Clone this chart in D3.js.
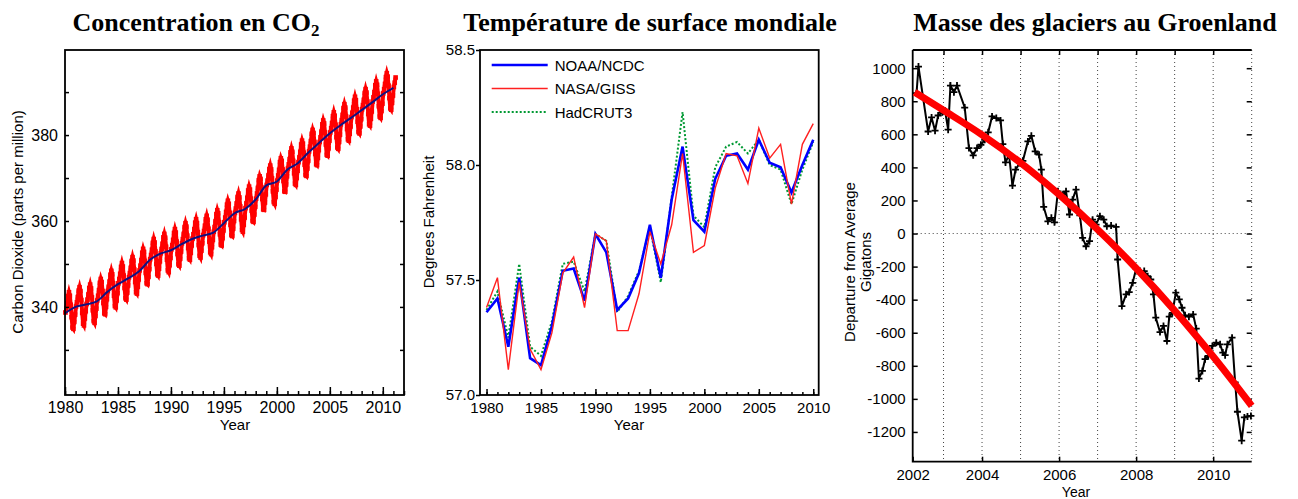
<!DOCTYPE html>
<html>
<head>
<meta charset="utf-8">
<script src="https://cdn.jsdelivr.net/npm/d3@7"></script>
<style>
body { margin: 0; background: #fff; }
svg { display: block; font-family: "Liberation Sans", Arial, sans-serif; }
.title { font-family: "Liberation Serif", "Times New Roman", serif; font-weight: bold; font-size: 26px; }
</style>
</head>
<body>
<svg id="chart" width="1298" height="499"></svg>
<script>
// ---- CO2 (Mauna Loa style monthly record), one row per year from 1980
const co2FirstYear = 1980;
const co2Monthly = [
  [338.7, 339.7, 340.9, 342.5, 343.4, 342.6, 340.5, 337.6, 335.2, 334.9, 336.5, 338.2],
  [340.1, 341.1, 342.3, 343.8, 344.6, 343.7, 341.6, 338.6, 336.1, 335.7, 337.3, 339.0],
  [340.7, 341.7, 342.9, 344.4, 345.2, 344.3, 342.2, 339.2, 336.7, 336.3, 337.9, 339.6],
  [341.5, 342.6, 343.9, 345.6, 346.5, 345.8, 343.7, 340.9, 338.5, 338.3, 340.0, 341.8],
  [343.7, 344.7, 345.9, 347.5, 348.4, 347.6, 345.5, 342.6, 340.2, 339.9, 341.5, 343.2],
  [345.5, 346.5, 347.7, 349.3, 350.2, 349.4, 347.3, 344.4, 342.0, 341.7, 343.3, 345.0],
  [346.9, 347.9, 349.1, 350.7, 351.6, 350.8, 348.7, 345.8, 343.4, 343.1, 344.7, 346.4],
  [348.5, 349.6, 350.9, 352.6, 353.5, 352.8, 350.7, 347.9, 345.5, 345.3, 347.0, 348.8],
  [351.1, 352.1, 353.3, 354.9, 355.8, 355.0, 352.9, 350.0, 347.6, 347.3, 348.9, 350.6],
  [352.5, 353.5, 354.7, 356.2, 357.0, 356.1, 354.0, 351.0, 348.5, 348.1, 349.7, 351.4],
  [353.4, 354.4, 355.6, 357.2, 358.1, 357.3, 355.2, 352.3, 349.9, 349.6, 351.2, 352.9],
  [354.8, 355.8, 357.0, 358.6, 359.5, 358.7, 356.6, 353.7, 351.3, 351.0, 352.6, 354.3],
  [355.9, 356.9, 358.1, 359.6, 360.4, 359.5, 357.4, 354.4, 351.9, 351.5, 353.1, 354.8],
  [356.7, 357.7, 358.9, 360.4, 361.2, 360.3, 358.2, 355.2, 352.7, 352.3, 353.9, 355.6],
  [357.5, 358.6, 359.9, 361.6, 362.5, 361.8, 359.7, 356.9, 354.5, 354.3, 356.0, 357.8],
  [359.7, 360.8, 362.1, 363.8, 364.7, 364.0, 361.9, 359.1, 356.7, 356.5, 358.2, 360.0],
  [361.9, 362.9, 364.1, 365.6, 366.4, 365.5, 363.4, 360.4, 357.9, 357.5, 359.1, 360.8],
  [363.0, 364.1, 365.4, 367.1, 368.0, 367.3, 365.2, 362.4, 360.0, 359.8, 361.5, 363.3],
  [365.2, 366.4, 367.7, 369.5, 370.4, 369.8, 367.8, 365.1, 362.7, 362.6, 364.3, 366.2],
  [368.4, 369.4, 370.6, 372.1, 372.9, 372.0, 369.9, 366.9, 364.4, 364.0, 365.6, 367.3],
  [369.4, 370.6, 371.9, 373.7, 374.6, 374.0, 372.0, 369.3, 366.9, 366.8, 368.5, 370.4],
  [372.2, 373.2, 374.4, 376.0, 376.9, 376.1, 374.0, 371.1, 368.7, 368.4, 370.0, 371.7],
  [373.7, 374.8, 376.1, 377.8, 378.7, 378.0, 375.9, 373.1, 370.7, 370.5, 372.2, 374.0],
  [376.2, 377.3, 378.6, 380.3, 381.2, 380.5, 378.4, 375.6, 373.2, 373.0, 374.7, 376.5],
  [378.4, 379.5, 380.8, 382.5, 383.4, 382.7, 380.6, 377.8, 375.4, 375.2, 376.9, 378.7],
  [380.6, 381.6, 382.8, 384.4, 385.3, 384.5, 382.4, 379.5, 377.1, 376.8, 378.4, 380.1],
  [382.5, 383.5, 384.7, 386.3, 387.2, 386.4, 384.3, 381.4, 379.0, 378.7, 380.3, 382.0],
  [384.2, 385.2, 386.4, 388.0, 388.9, 388.1, 386.0, 383.1, 380.7, 380.4, 382.0, 383.7],
  [386.0, 387.0, 388.2, 389.8, 390.7, 389.9, 387.8, 384.9, 382.5, 382.2, 383.8, 385.5],
  [387.8, 388.8, 390.0, 391.6, 392.5, 391.7, 389.6, 386.7, 384.3, 384.0, 385.6, 387.3],
  [389.7, 390.7, 391.9, 393.5, 394.4, 393.6, 391.5, 388.6, 386.2, 385.9, 387.5, 389.2],
  [391.2, 392.2, 393.4]
];
// smoothed trend (blue), value at start of each year
const co2TrendYears = [1980, 1981, 1982, 1983, 1984, 1985, 1986, 1987, 1988, 1989, 1990,
  1991, 1992, 1993, 1994, 1995, 1996, 1997, 1998, 1999, 2000,
  2001, 2002, 2003, 2004, 2005, 2006, 2007, 2008, 2009, 2010, 2011];
const co2Trend = [338.5, 340.0, 340.6, 341.3, 343.5, 345.3, 346.7, 348.3, 350.9, 352.4, 353.2,
  354.6, 355.8, 356.6, 357.3, 359.5, 361.8, 362.8, 365.0, 368.3, 369.2,
  372.0, 373.5, 376.0, 378.2, 380.4, 382.3, 384.0, 385.8, 387.6, 389.5, 391.0];

// ---- global surface temperature (deg F)
const tempYears = [1980, 1981, 1982, 1983, 1984, 1985, 1986, 1987, 1988, 1989, 1990,
  1991, 1992, 1993, 1994, 1995, 1996, 1997, 1998, 1999, 2000,
  2001, 2002, 2003, 2004, 2005, 2006, 2007, 2008, 2009, 2010];
const noaa = [57.36, 57.42, 57.21, 57.51, 57.16, 57.13, 57.30, 57.54, 57.55, 57.41, 57.70,
  57.62, 57.37, 57.42, 57.53, 57.74, 57.51, 57.85, 58.08, 57.76, 57.71,
  57.94, 58.04, 58.05, 57.98, 58.11, 58.01, 57.99, 57.88, 58.00, 58.11];
const nasa = [57.38, 57.51, 57.11, 57.49, 57.20, 57.11, 57.27, 57.53, 57.60, 57.38, 57.70,
  57.67, 57.28, 57.28, 57.44, 57.71, 57.57, 57.74, 58.05, 57.62, 57.65,
  57.90, 58.05, 58.04, 57.92, 58.16, 58.03, 58.09, 57.83, 58.09, 58.18];
const hadcrut = [57.37, 57.45, 57.25, 57.57, 57.21, 57.17, 57.32, 57.57, 57.58, 57.45, 57.70,
  57.67, 57.36, 57.43, 57.54, 57.73, 57.49, 57.86, 58.23, 57.78, 57.73,
  57.99, 58.08, 58.10, 58.05, 58.11, 58.00, 57.98, 57.83, 57.98, 58.10];
const tempSeries = ["HadCRUT3", "NOAA/NCDC", "NASA/GISS"];
const legendNames = ["NOAA/NCDC", "NASA/GISS", "HadCRUT3"];

// ---- Greenland ice mass (Gt, departure from average)
const graceYears = [2002.30, 2002.35, 2002.60, 2002.69, 2002.78, 2002.86, 2002.97, 2003.04, 2003.12, 2003.18,
  2003.27, 2003.35, 2003.55, 2003.66, 2003.77, 2003.87, 2003.97, 2004.07, 2004.16, 2004.26,
  2004.37, 2004.48, 2004.54, 2004.61, 2004.70, 2004.79, 2004.87, 2004.98, 2005.06, 2005.19,
  2005.28, 2005.38, 2005.48, 2005.54, 2005.60, 2005.71, 2005.80, 2005.88, 2005.97, 2006.10,
  2006.18, 2006.27, 2006.35, 2006.44, 2006.54, 2006.61, 2006.70, 2006.79, 2006.87, 2006.96,
  2007.06, 2007.16, 2007.24, 2007.35, 2007.48, 2007.52, 2007.63, 2007.74, 2007.82, 2007.91,
  2008.00, 2008.10, 2008.21, 2008.30, 2008.38, 2008.45, 2008.51, 2008.62, 2008.71, 2008.80,
  2008.86, 2008.94, 2009.03, 2009.12, 2009.19, 2009.27, 2009.37, 2009.48, 2009.56, 2009.63,
  2009.72, 2009.79, 2009.87, 2009.98, 2010.08, 2010.18, 2010.25, 2010.31, 2010.37, 2010.49,
  2010.57, 2010.63, 2010.74, 2010.81, 2010.89, 2010.98];
const graceMass = [849, 1010, 617, 702, 622, 714, 734, 742, 628, 895,
  855, 895, 762, 517, 473, 517, 537, 567, 612, 708,
  698, 684, 541, 430, 477, 290, 386, 427, 440, 557,
  591, 497, 477, 386, 161, 74, 95, 68, 255, 235,
  255, 115, 205, 266, 110, -26, -77, -46, 84, 54,
  105, 84, 44, 48, 40, -157, -439, -368, -354, -298,
  -213, -227, -227, -258, -278, -368, -509, -596, -559, -650,
  -503, -480, -358, -398, -449, -495, -503, -489, -575, -877,
  -831, -760, -740, -680, -660, -670, -720, -736, -670, -630,
  -900, -1078, -1253, -1112, -1106, -1103];
// fitted trend (red)
const graceFitYears = [2002.25, 2003, 2004, 2005, 2006, 2007, 2008, 2009, 2010, 2011];
const graceFit = [855, 746, 597, 428, 236, 24, -210, -466, -744, -1042];

const svg = d3.select("#chart");
const tickFont = (g, size) => g.attr("font-family", "'Liberation Sans', Arial, sans-serif")
  .attr("font-size", size).call(s => s.selectAll("text").attr("fill", "#000"))
  .call(s => s.selectAll("line").attr("stroke", "#000").attr("stroke-width", 1.5))
  .call(s => s.select(".domain").remove());
const plainInt = d => String(d); // hyphen minus like the original

// ================= Chart 1 : CO2 =================
const c1 = svg.append("g");
const x1 = d3.scaleLinear().domain([1980, 2012]).range([65, 404]);
const y1 = d3.scaleLinear().domain([319.5, 399.8]).range([395, 50]);

const co2Points = [];
co2Monthly.forEach((row, i) => row.forEach((v, m) => co2Points.push({ t: co2FirstYear + i + (m + 0.5) / 12, v })));

// thick mitred polyline gives the pointed "teeth" of the original
c1.append("path").datum(co2Points)
  .attr("d", d3.line().x(d => x1(d.t)).y(d => y1(d.v)))
  .attr("fill", "none").attr("stroke", "#ff0000").attr("stroke-width", 4)
  .attr("stroke-linejoin", "miter").attr("stroke-miterlimit", 12);
c1.selectAll("rect.mk").data(co2Points).join("rect").attr("class", "mk")
  .attr("x", d => x1(d.t) - 2.3).attr("y", d => y1(d.v) - 2.3)
  .attr("width", 4.6).attr("height", 4.6).attr("fill", "#ff0000");
c1.append("path").datum(co2TrendYears.map((t, i) => ({ t, v: co2Trend[i] })))
  .attr("d", d3.line().x(d => x1(d.t)).y(d => y1(d.v)).curve(d3.curveMonotoneX))
  .attr("fill", "none").attr("stroke", "#101080").attr("stroke-width", 2);

c1.append("g").attr("transform", "translate(0,395)")
  .call(d3.axisBottom(x1).tickValues(d3.range(1980, 2013)).tickSize(-4).tickFormat(""))
  .call(g => tickFont(g, 16));
c1.append("g").attr("transform", "translate(0,395)")
  .call(d3.axisBottom(x1).tickValues(d3.range(1980, 2011, 5)).tickSize(-8).tickPadding(7).tickFormat(d3.format("d")))
  .call(g => tickFont(g, 16));
c1.append("g").attr("transform", "translate(65,0)")
  .call(d3.axisLeft(y1).tickValues(d3.range(330, 400, 10)).tickSize(-4).tickPadding(7)
    .tickFormat(d => d % 20 === 0 ? d : ""))
  .call(g => tickFont(g, 16));
c1.append("g").attr("transform", "translate(404,0)")
  .call(d3.axisRight(y1).tickValues(d3.range(330, 400, 10)).tickSize(-4).tickFormat(""))
  .call(g => tickFont(g, 16));
c1.append("rect").attr("x", 65).attr("y", 50).attr("width", 339).attr("height", 345)
  .attr("fill", "none").attr("stroke", "#000").attr("stroke-width", 1.8);
c1.append("text").attr("x", 235).attr("y", 430).attr("text-anchor", "middle").attr("font-size", 15).text("Year");
c1.append("text").attr("transform", "translate(23,222) rotate(-90)").attr("text-anchor", "middle")
  .attr("font-size", 15).text("Carbon Dioxide (parts per million)");
const t1 = c1.append("text").attr("class", "title").attr("x", 196).attr("y", 31).attr("text-anchor", "middle");
t1.append("tspan").text("Concentration en CO");
t1.append("tspan").attr("dy", 5).attr("font-size", 17).text("2");

// ================= Chart 2 : temperature =================
const c2 = svg.append("g");
const x2 = d3.scaleLinear().domain([1979.4, 2010.5]).range([480, 818.7]);
const y2 = d3.scaleLinear().domain([57, 58.5]).range([395, 50]);
const seriesData = { "NOAA/NCDC": noaa, "NASA/GISS": nasa, "HadCRUT3": hadcrut };
const seriesStyle = {
  "NOAA/NCDC": { color: "#0000ff", width: 2.6, dash: null },
  "NASA/GISS": { color: "#ff2020", width: 1.4, dash: null },
  "HadCRUT3": { color: "#009933", width: 2, dash: "2,2" }
};
const line2 = d3.line().x((d, i) => x2(tempYears[i])).y(d => y2(d));
tempSeries.forEach(name => {
  const st = seriesStyle[name];
  c2.append("path").datum(seriesData[name]).attr("d", line2)
    .attr("fill", "none").attr("stroke", st.color).attr("stroke-width", st.width)
    .attr("stroke-dasharray", st.dash);
});

c2.append("g").attr("transform", "translate(0,395)")
  .call(d3.axisBottom(x2).tickValues(d3.range(1980, 2011)).tickSize(-3).tickFormat(""))
  .call(g => tickFont(g, 15));
c2.append("g").attr("transform", "translate(0,395)")
  .call(d3.axisBottom(x2).tickValues(d3.range(1980, 2011, 5)).tickSize(-6).tickPadding(7).tickFormat(d3.format("d")))
  .call(g => tickFont(g, 15));
c2.append("g").attr("transform", "translate(480,0)")
  .call(d3.axisLeft(y2).tickValues([57, 57.5, 58, 58.5]).tickSize(4).tickPadding(1).tickFormat(d3.format(".1f")))
  .call(g => tickFont(g, 15));
c2.append("rect").attr("x", 480).attr("y", 50).attr("width", 338.7).attr("height", 345)
  .attr("fill", "none").attr("stroke", "#000").attr("stroke-width", 1.8);
c2.append("text").attr("x", 629).attr("y", 430).attr("text-anchor", "middle").attr("font-size", 15).text("Year");
c2.append("text").attr("transform", "translate(434,222) rotate(-90)").attr("text-anchor", "middle")
  .attr("font-size", 15).text("Degrees Fahrenheit");

const leg = c2.append("g").selectAll("g").data(legendNames).join("g")
  .attr("transform", (d, i) => `translate(491.7,${65 + i * 23.5})`);
leg.append("line").attr("x1", 0).attr("x2", 56).attr("y1", 0).attr("y2", 0)
  .attr("stroke", d => seriesStyle[d].color).attr("stroke-width", d => seriesStyle[d].width)
  .attr("stroke-dasharray", d => seriesStyle[d].dash);
leg.append("text").attr("x", 63).attr("y", 5.5).attr("font-size", 15).text(d => d);

svg.append("text").attr("class", "title").attr("x", 650).attr("y", 31).attr("text-anchor", "middle")
  .text("Température de surface mondiale");

// ================= Chart 3 : Greenland =================
const c3 = svg.append("g");
const x3 = d3.scaleLinear().domain([2002.2, 2011]).range([912.7, 1251.7]).clamp(true);
const y3 = d3.scaleLinear().domain([-1380, 1110]).range([461.7, 50]);

c3.selectAll("line.vgrid").data(d3.range(2003, 2012)).join("line").attr("class", "vgrid")
  .attr("x1", d => x3(d)).attr("x2", d => x3(d)).attr("y1", 50).attr("y2", 461.7)
  .attr("stroke", "#444").attr("stroke-width", 1).attr("stroke-dasharray", "1,3");
c3.append("line").attr("x1", 912.7).attr("x2", 1251.7).attr("y1", y3(0)).attr("y2", y3(0))
  .attr("stroke", "#444").attr("stroke-width", 1).attr("stroke-dasharray", "1,3");

c3.append("g").attr("transform", "translate(912.7,0)")
  .call(d3.axisLeft(y3).tickValues(d3.range(-1200, 1001, 200)).tickSize(-5).tickPadding(7).tickFormat(plainInt))
  .call(g => tickFont(g, 15));
c3.append("g").attr("transform", "translate(1251.7,0)")
  .call(d3.axisRight(y3).tickValues(d3.range(-1200, 1001, 200)).tickSize(-5).tickFormat(""))
  .call(g => tickFont(g, 15));
c3.append("g").attr("transform", "translate(0,50)")
  .call(d3.axisTop(x3).tickValues(d3.range(2003, 2011)).tickSize(-5).tickFormat(""))
  .call(g => tickFont(g, 15));
c3.append("g").attr("transform", "translate(0,461.7)")
  .call(d3.axisBottom(x3).tickValues([2002, 2004, 2006, 2008, 2010]).tickSize(-5).tickPadding(8).tickFormat(plainInt))
  .call(g => tickFont(g, 15));
c3.append("path").attr("d", "M912.7,50V461.7H1251.7M912.7,50H1251.7")
  .attr("fill", "none").attr("stroke", "#000").attr("stroke-width", 1.8);

const gracePts = graceYears.map((t, i) => ({ t, v: graceMass[i] }));
c3.append("path").datum(gracePts)
  .attr("d", d3.line().x(d => x3(d.t)).y(d => y3(d.v)))
  .attr("fill", "none").attr("stroke", "#000").attr("stroke-width", 2);
c3.selectAll("path.plus").data(gracePts).join("path").attr("class", "plus")
  .attr("transform", d => `translate(${x3(d.t)},${y3(d.v)})`)
  .attr("d", "M-3.5,0H3.5M0,-3.5V3.5").attr("stroke", "#000").attr("stroke-width", 1.8);
c3.append("path").datum(graceFitYears.map((t, i) => ({ t, v: graceFit[i] })))
  .attr("d", d3.line().x(d => x3(d.t)).y(d => y3(d.v)).curve(d3.curveMonotoneX))
  .attr("fill", "none").attr("stroke", "#ff0000").attr("stroke-width", 7);

c3.append("text").attr("x", 1076).attr("y", 496.5).attr("text-anchor", "middle").attr("font-size", 14).text("Year");
c3.append("text").attr("transform", "translate(855,262) rotate(-90)").attr("text-anchor", "middle")
  .attr("font-size", 15).text("Departure from Average");
c3.append("text").attr("transform", "translate(871,262) rotate(-90)").attr("text-anchor", "middle")
  .attr("font-size", 15).text("Gigatons");
svg.append("text").attr("class", "title").attr("x", 1095).attr("y", 31).attr("text-anchor", "middle")
  .text("Masse des glaciers au Groenland");
</script>
</body>
</html>
